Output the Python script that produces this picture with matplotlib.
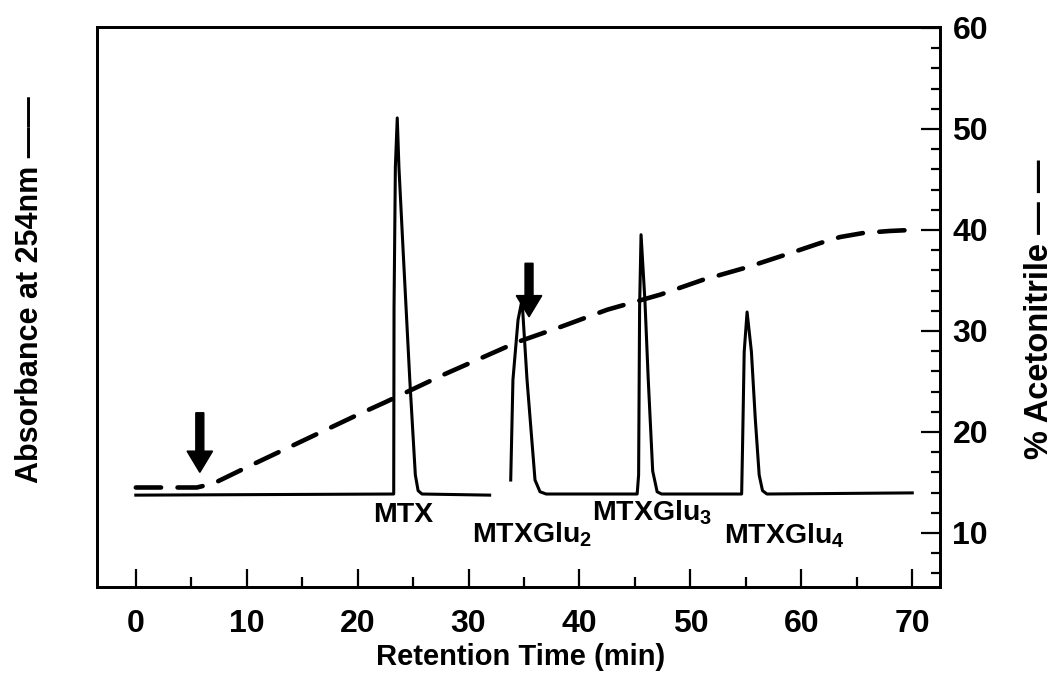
import numpy as np
import matplotlib
matplotlib.use("Agg")
import matplotlib.pyplot as plt
from matplotlib.ticker import MultipleLocator

plt.rcParams['font.family'] = ['Liberation Sans', 'DejaVu Sans']
plt.rcParams['mathtext.fontset'] = 'custom'
plt.rcParams['mathtext.rm'] = 'Liberation Sans:bold'
plt.rcParams['mathtext.bf'] = 'Liberation Sans:bold'

nan = np.nan

# absorbance trace (relative units, 0-1 of the left axis), gap before MTXGlu2
abs_time = [0, 23.25, 23.28, 23.4, 23.57, 23.72, 24.1, 24.7, 25.2, 25.45, 25.8, 31.9,
            nan, 33.8, 34.0, 34.46, 34.82, 35.27, 35.99, 36.44, 37.0,
            45.2, 45.33, 45.42, 45.55, 45.9, 46.2, 46.6, 47.0, 47.4,
            54.62, 54.7, 54.85, 55.11, 55.5, 55.85, 56.2, 56.5, 56.9, 70.0]
abs_val = [0.164, 0.166, 0.50, 0.75, 0.8375, 0.75, 0.60, 0.37, 0.20, 0.172, 0.166, 0.164,
           nan, 0.191, 0.37, 0.477, 0.5125, 0.37, 0.191, 0.17, 0.166,
           0.166, 0.20, 0.50, 0.629, 0.511, 0.37, 0.207, 0.17, 0.166,
           0.166, 0.25, 0.42, 0.491, 0.42, 0.30, 0.20, 0.172, 0.166, 0.168]

# acetonitrile gradient (%)
grad_time = [0, 5.5, 7.0, 10, 15, 20, 22.6, 27.6, 34.4, 38.3, 42.5, 45.7, 47.3,
             51.1, 55.1, 59.0, 61.7, 63.5, 65.6, 68.0, 70.0]
grad_pct = [14.5, 14.5, 14.9, 16.5, 19.1, 21.7, 23.0, 25.6, 28.9, 30.4, 32.1, 33.1, 33.6,
            35.05, 36.3, 37.7, 38.7, 39.3, 39.7, 39.9, 40.0]

# injection arrows: time, tail %, tip %
arrows = [(5.77, 21.9, 16.0), (35.45, 36.7, 31.4)]

# peak labels: text, time (left edge), y (left axis units)
labels = [("MTX", 21.4, 0.129),
          ("MTXGlu$_\\mathbf{2}$", 30.3, 0.093),
          ("MTXGlu$_\\mathbf{3}$", 41.1, 0.132),
          ("MTXGlu$_\\mathbf{4}$", 53.0, 0.091)]

fig = plt.figure(figsize=(10.59, 6.94), dpi=100)
ax = fig.add_axes([0.0916, 0.1542, 0.796, 0.807])
ax2 = ax.twinx()

ax.plot(abs_time, abs_val, color='black', lw=2.2, solid_joinstyle='round')
ax2.plot(grad_time, grad_pct, color='black', lw=3.3, ls=(0, (5.5, 3.6)),
         dash_capstyle='round')

for x, y0, y1 in arrows:
    ax2.arrow(x, y0, 0, y1 - y0, width=0.72, head_width=2.3, head_length=2.1,
              length_includes_head=True, color='black')

for txt, x, y in labels:
    ax.text(x, y, txt, fontsize=20.5, fontweight='bold', ha='left', va='center')

ax.set_xlim(-3.5, 72.5)
ax.set_ylim(0, 1)
ax2.set_ylim(4.65, 60.1)

ax.xaxis.set_major_locator(MultipleLocator(10))
ax.xaxis.set_minor_locator(MultipleLocator(5))
ax.tick_params(axis='x', which='major', direction='in', length=13, width=1.6,
               labelsize=23, pad=16)
ax.tick_params(axis='x', which='minor', direction='in', length=7, width=1.6)
ax.tick_params(axis='y', left=False, labelleft=False)
for lab in ax.get_xticklabels():
    lab.set_fontweight('bold')

ax2.yaxis.set_major_locator(MultipleLocator(10))
ax2.yaxis.set_minor_locator(MultipleLocator(2))
ax2.tick_params(axis='y', which='major', direction='in', length=14, width=1.6,
                labelsize=23, pad=9)
ax2.tick_params(axis='y', which='minor', direction='in', length=6.5, width=1.6)
for lab in ax2.get_yticklabels():
    lab.set_fontweight('bold')

for a in (ax, ax2):
    for s in a.spines.values():
        s.set_linewidth(2.0)

fig.text(0.492, 0.054, "Retention Time (min)", fontsize=21, fontweight='bold',
         ha='center', va='center')
fig.text(0.028, 0.583, "Absorbance at 254nm \u2014\u2014", fontsize=22, fontweight='bold',
         rotation=90, ha='center', va='center')
fig.text(0.982, 0.555, "% Acetonitrile \u2014 \u2014", fontsize=23.5, fontweight='bold',
         rotation=90, ha='center', va='center')

fig.savefig("out.png", dpi=100)
